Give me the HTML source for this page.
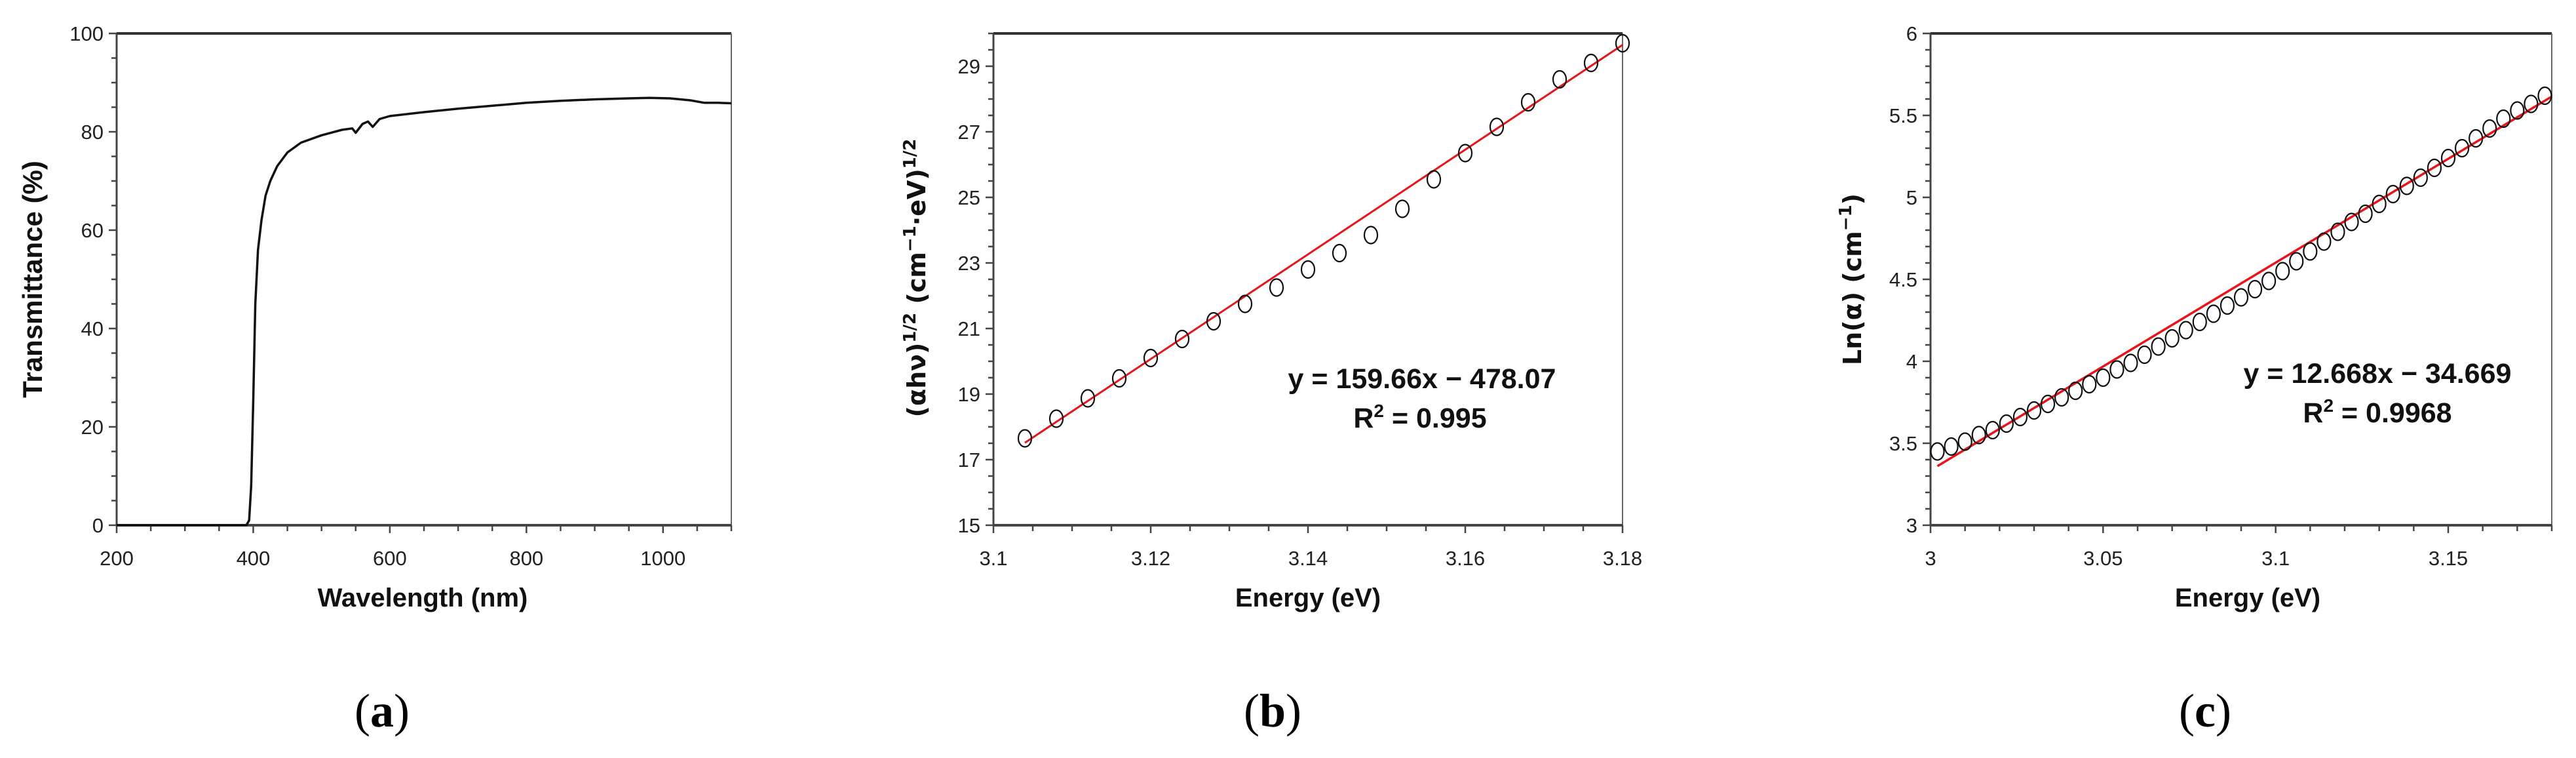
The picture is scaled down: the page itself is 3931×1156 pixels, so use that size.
<!DOCTYPE html>
<html><head><meta charset="utf-8"><style>
html,body{margin:0;padding:0;background:#fff;}
svg{display:block;}
</style></head><body>
<svg id="fig" width="3931" height="1156" xmlns="http://www.w3.org/2000/svg" font-family="Liberation Sans, sans-serif">
<rect width="3931" height="1156" fill="#fff"/>
</svg>
<script>
// Panel (a) data
const wavelengths = [200,300,390,394,397,400,403,407,412,418,425,435,450,470,500,530,545,550,560,568,575,585,600,650,700,750,800,850,900,950,980,1010,1040,1060,1080,1100];
const transmittance = [0,0,0,1,8,25,45,56,62,67,70,73,75.8,77.8,79.3,80.4,80.7,79.8,81.6,82.1,81,82.6,83.2,84,84.7,85.3,85.9,86.3,86.6,86.8,86.9,86.8,86.4,85.9,85.9,85.8];
// Panel (b) data
const energyB = [3.104,3.108,3.112,3.116,3.120,3.124,3.128,3.132,3.136,3.140,3.144,3.148,3.152,3.156,3.160,3.164,3.168,3.172,3.176,3.180];
const taucB = [17.65,18.25,18.87,19.48,20.1,20.68,21.22,21.75,22.25,22.8,23.3,23.85,24.65,25.55,26.35,27.15,27.9,28.6,29.1,29.7];
const fitB = [159.66,-478.07];
// Panel (c) data
const energyC = [3.002,3.006,3.010,3.014,3.018,3.022,3.026,3.030,3.034,3.038,3.042,3.046,3.050,3.054,3.058,3.062,3.066,3.070,3.074,3.078,3.082,3.086,3.090,3.094,3.098,3.102,3.106,3.110,3.114,3.118,3.122,3.126,3.130,3.134,3.138,3.142,3.146,3.150,3.154,3.158,3.162,3.166,3.170,3.174,3.178];
const lnAlphaC = [3.45,3.48,3.51,3.55,3.58,3.62,3.66,3.70,3.74,3.78,3.82,3.86,3.90,3.95,3.99,4.04,4.09,4.14,4.19,4.24,4.29,4.34,4.39,4.44,4.49,4.55,4.61,4.67,4.73,4.79,4.85,4.90,4.96,5.02,5.07,5.12,5.18,5.24,5.30,5.36,5.42,5.48,5.53,5.57,5.62];
const fitC = [12.668,-34.669];
const ticksA_x = ["200","400","600","800","1000"];
const ticksA_y = ["0","20","40","60","80","100"];
const ticksB_x = ["3.1","3.12","3.14","3.16","3.18"];
const ticksB_y = ["15","17","19","21","23","25","27","29"];
const ticksC_x = ["3","3.05","3.1","3.15"];
const ticksC_y = ["3","3.5","4","4.5","5","5.5","6"];

const NS="http://www.w3.org/2000/svg";
const svg=document.getElementById('fig');
function mk(tag,attrs,parent,text){const e=document.createElementNS(NS,tag);for(const k in attrs)e.setAttribute(k,attrs[k]);if(text!==undefined)e.textContent=text;(parent||svg).appendChild(e);return e;}
const TOP=51,BOT=801;

function panel(name,L,R,xmin,xmax,ymin,ymax,xMinor,yMinor,xt,yt){
  const g=mk('g',{});
  
  
  const sx=v=>L+(v-xmin)/(xmax-xmin)*(R-L);
  const sy=v=>BOT-(v-ymin)/(ymax-ymin)*(BOT-TOP);
  const f=mk('g',{},g);
  
  
  mk('line',{x1:L,y1:TOP,x2:R,y2:TOP,stroke:'#333','stroke-width':4},f);
  mk('line',{x1:R,y1:TOP,x2:R,y2:BOT,stroke:'#666','stroke-width':2},f);
  mk('line',{x1:L,y1:TOP,x2:L,y2:BOT,stroke:'#444','stroke-width':3},f);
  mk('line',{x1:L,y1:BOT,x2:R,y2:BOT,stroke:'#444','stroke-width':4},f);
  const ta=mk('g',{},g);
  
  
  for(let v=xmin;v<=xmax+1e-9;v+=xMinor){const x=sx(v);const maj=xt.some(t=>Math.abs(parseFloat(t)-v)<1e-9);mk('line',{x1:x,y1:BOT,x2:x,y2:BOT+(maj?12:9),stroke:'#444','stroke-width':2.5},ta);}
  for(let v=ymin;v<=ymax+1e-9;v+=yMinor){const y=sy(v);const maj=yt.some(t=>Math.abs(parseFloat(t)-v)<1e-9);mk('line',{x1:L-(maj?12:8),y1:y,x2:L,y2:y,stroke:'#444','stroke-width':2.5},ta);}
  xt.forEach(t=>{const e=mk('text',{x:sx(parseFloat(t)),y:862,'text-anchor':'middle','font-size':31,fill:'#222'},g,t);
    
    });
  yt.forEach(t=>{const e=mk('text',{x:L-20,y:sy(parseFloat(t))+11,'text-anchor':'end','font-size':31,fill:'#222'},g,t);
    
    });
  return {g,sx,sy};
}

// Panel a
const A=panel('panel-a-transmittance',178,1116,200,1100,0,100,50,5,ticksA_x,ticksA_y);
let d=wavelengths.map((w,i)=>(i?'L':'M')+A.sx(w).toFixed(1)+','+A.sy(transmittance[i]).toFixed(1)).join(' ');
let p=mk('path',{d:d,fill:'none',stroke:'#111','stroke-width':3.5,'stroke-linejoin':'round'},A.g);


let t=mk('text',{x:645,y:925,'text-anchor':'middle','font-size':40,'font-weight':'bold',fill:'#111'},A.g,'Wavelength (nm)');


t=mk('text',{x:0,y:0,transform:'translate(64,426) rotate(-90)','text-anchor':'middle','font-size':42,'font-weight':'bold',fill:'#111'},A.g,'Transmittance (%)');



// Panel b
const B=panel('panel-b-tauc-plot',1516,2476,3.1,3.18,15,30,0.005,0.5,ticksB_x,ticksB_y);
p=mk('line',{x1:B.sx(3.104),y1:B.sy(fitB[0]*3.104+fitB[1]),x2:B.sx(3.18),y2:B.sy(fitB[0]*3.18+fitB[1]),stroke:'#e8141c','stroke-width':3},B.g);


energyB.forEach((e,i)=>{const c=mk('ellipse',{cx:B.sx(e),cy:B.sy(taucB[i]),rx:10,ry:13,fill:'none',stroke:'#111','stroke-width':2.2},B.g);
  
  });
t=mk('text',{x:2170,y:592,'text-anchor':'middle','font-size':43,'font-weight':'bold',fill:'#111'},B.g,'y = 159.66x − 478.07');


t=mk('text',{x:2167,y:652,'text-anchor':'middle','font-size':43,'font-weight':'bold',fill:'#111'},B.g);


t.innerHTML='R<tspan font-size="28" dy="-16">2</tspan><tspan dy="16"> = 0.995</tspan>';
t=mk('text',{x:1996,y:925,'text-anchor':'middle','font-size':40,'font-weight':'bold',fill:'#111'},B.g,'Energy (eV)');


t=mk('text',{x:0,y:0,transform:'translate(1412,424) rotate(-90)','text-anchor':'middle','font-size':38,'font-weight':'bold','font-family':'DejaVu Sans, sans-serif',fill:'#111'},B.g);


t.innerHTML='(αhν)<tspan font-size="26" dy="-15">1/2</tspan><tspan dy="15"> (cm</tspan><tspan font-size="26" dy="-15">−1</tspan><tspan dy="15">·eV)</tspan><tspan font-size="26" dy="-15">1/2</tspan>';

// Panel c
const C=panel('panel-c-urbach-plot',2946,3894,3,3.18,3,6,0.01,0.1,ticksC_x,ticksC_y);
p=mk('line',{x1:C.sx(3.002),y1:C.sy(fitC[0]*3.002+fitC[1]),x2:C.sx(3.18),y2:C.sy(fitC[0]*3.18+fitC[1]),stroke:'#e8141c','stroke-width':3.5},C.g);


energyC.forEach((e,i)=>{const c=mk('ellipse',{cx:C.sx(e),cy:C.sy(lnAlphaC[i]),rx:10,ry:13,fill:'none',stroke:'#111','stroke-width':2.2},C.g);
  
  });
t=mk('text',{x:3628,y:584,'text-anchor':'middle','font-size':43,'font-weight':'bold',fill:'#111'},C.g,'y = 12.668x − 34.669');


t=mk('text',{x:3628,y:644,'text-anchor':'middle','font-size':43,'font-weight':'bold',fill:'#111'},C.g);


t.innerHTML='R<tspan font-size="28" dy="-16">2</tspan><tspan dy="16"> = 0.9968</tspan>';
t=mk('text',{x:3430,y:925,'text-anchor':'middle','font-size':40,'font-weight':'bold',fill:'#111'},C.g,'Energy (eV)');


t=mk('text',{x:0,y:0,transform:'translate(2840,426) rotate(-90)','text-anchor':'middle','font-size':38,'font-weight':'bold','font-family':'DejaVu Sans, sans-serif',fill:'#111'},C.g);


t.innerHTML='Ln(α) (cm<tspan font-size="26" dy="-15">−1</tspan><tspan dy="15">)</tspan>';

// Panel labels
[['(','a',')',583,'panel-label-a'],['(','b',')',1942,'panel-label-b'],['(','c',')',3365,'panel-label-c']].forEach(l=>{
  const e=mk('text',{x:l[3],y:1108,'text-anchor':'middle','font-size':72,'font-family':'Liberation Serif, serif',fill:'#000'});
  
  
  e.innerHTML='('+'<tspan font-weight="bold">'+l[1]+'</tspan>)';
});
</script>
</body></html>
